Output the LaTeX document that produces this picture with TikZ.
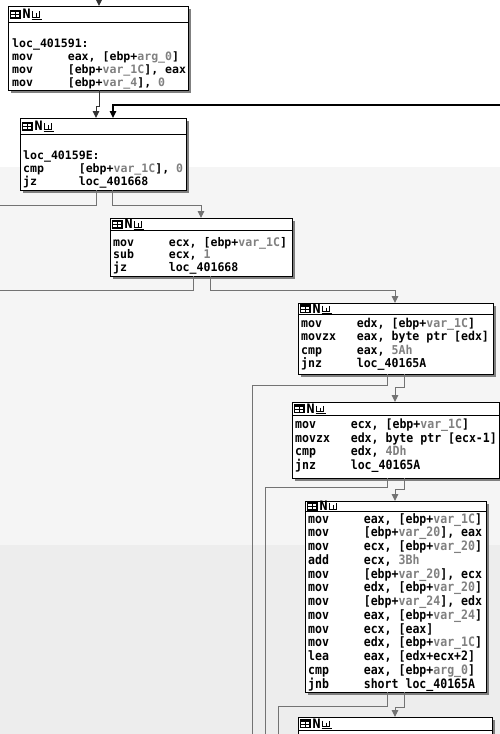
\documentclass[tikz,border=0pt]{standalone}
\usepackage{fontspec}
\usetikzlibrary{arrows.meta,shadows,calc}
\newfontfamily\asmfont{DejaVu Sans Mono}
\newfontfamily\hdrfont{DejaVu Sans}
\newcommand\asmf{\asmfont\bfseries\fontsize{11.55pt}{13pt}\selectfont}
\newcommand\gv[1]{\textcolor{black!50}{#1}}
\newcommand\vs{1}
\newcommand\asmln[5]{\node[asmtext] (#1) at (#2,#3) {\scalebox{1}[\vs]{\makebox[8\fontcharwd\font`0][l]{#4}#5}};}
\newcommand\lblln[4]{\node[asmtext] (#1) at (#2,#3) {\scalebox{1}[\vs]{#4}};}
\newcommand\hdr[2]{%
  \draw[line width=.8pt] ([yshift=-#2pt]#1.north west) -- ([yshift=-#2pt]#1.north east);
  \begin{scope}[shift={(#1.north west)}]
    \pgfmathsetmacro\yc{#2/2}
    \fill[black] (1.5,\yc-4.5) rectangle (12.5,\yc+4.5);
    \fill[white] (3,\yc-2) rectangle (6.5,\yc+0.3);
    \fill[white] (7.8,\yc-2) rectangle (11.2,\yc+0.3);
    \fill[white] (3,\yc+1.3) rectangle (6.5,\yc+3.2);
    \fill[white] (7.8,\yc+1.3) rectangle (11.2,\yc+3.2);
    \node[inner sep=0, font=\hdrfont\bfseries\fontsize{13}{13}\selectfont] (#1-n) at (18.5,\yc+0.2) {\scalebox{0.78}[1]{N}};
    \draw[line width=.9pt] (24.5,\yc-3) -- (24.5,\yc+3) -- (31.5,\yc+3) -- (31.5,\yc-3)
      (28,\yc-1) -- (28,\yc+3);
    \draw[line width=.9pt] (23.5,\yc+5) -- (33.5,\yc+5);
  \end{scope}}
\tikzset{
  box/.style={draw=black, line width=.9pt, fill=white, inner sep=0, outer sep=0, anchor=north west,
    drop shadow={shadow xshift=3pt, shadow yshift=-3pt, fill=black!55, opacity=.9}},
  asmtext/.style={anchor=base west, inner sep=0, font=\asmf},
  edge/.style={draw=black!55, line width=1pt},
  edgedark/.style={draw=black!80, line width=1pt},
  edgeback/.style={draw=black, line width=1.4pt},
  tip/.style={-{Triangle[length=7pt,width=6.5pt]}}
}
\begin{document}
\begin{tikzpicture}[x=1pt,y=-1pt]
\useasboundingbox (0,0) rectangle (500,734);
\fill[white] (0,0) rectangle (500,167);
\fill[black!4] (0,167) rectangle (500,545);
\fill[black!7] (0,545) rectangle (500,734);

% boxes
\node[box, minimum width=180pt, minimum height=84pt] (b1) at (8,6) {};
\node[box, minimum width=166pt, minimum height=72pt] (b2) at (20,118) {};
\node[box, minimum width=182pt, minimum height=58pt] (b3) at (110,218) {};
\node[box, minimum width=195pt, minimum height=71pt] (b4) at (298,303) {};
\node[box, minimum width=207pt, minimum height=76pt] (b5) at (292,402) {};
\node[box, minimum width=181pt, minimum height=191pt] (b6) at (305,501) {};
\node[box, minimum width=194pt, minimum height=40pt] (b7) at (298,717) {};

\hdr{b1}{16}
\hdr{b2}{16}
\hdr{b3}{12}
\hdr{b4}{11}
\hdr{b5}{13}
\hdr{b6}{10}
\hdr{b7}{13}

% text
\lblln{t11}{12}{47}{loc\_401591:}
\asmln{t12}{12}{60}{mov}{eax, [ebp+\gv{arg\_0}]}
\asmln{t13}{12}{73}{mov}{[ebp+\gv{var\_1C}], eax}
\asmln{t14}{12}{86}{mov}{[ebp+\gv{var\_4}], \gv{0}}

\lblln{t21}{23}{159}{loc\_40159E:}
\asmln{t22}{23}{172}{cmp}{[ebp+\gv{var\_1C}], \gv{0}}
\asmln{t23}{23}{185}{jz}{loc\_401668}

\renewcommand\vs{1.03}
\asmln{t31}{113}{246}{mov}{ecx, [ebp+\gv{var\_1C}]}
\asmln{t32}{113}{258.5}{sub}{ecx, \gv{1}}
\asmln{t33}{113}{271}{jz}{loc\_401668}

\renewcommand\vs{1.06}
\asmln{t41}{301}{327}{mov}{edx, [ebp+\gv{var\_1C}]}
\asmln{t42}{301}{340.5}{movzx}{eax, byte ptr [edx]}
\asmln{t43}{301}{354}{cmp}{eax, \gv{5Ah}}
\asmln{t44}{301}{367.5}{jnz}{loc\_40165A}

\renewcommand\vs{1.1}
\asmln{t51}{295}{428.5}{mov}{ecx, [ebp+\gv{var\_1C}]}
\asmln{t52}{295}{442}{movzx}{edx, byte ptr [ecx-1]}
\asmln{t53}{295}{455.5}{cmp}{edx, \gv{4Dh}}
\asmln{t54}{295}{469}{jnz}{loc\_40165A}

\renewcommand\vs{1.12}
\asmln{t601}{308}{523}{mov}{eax, [ebp+\gv{var\_1C}]}
\asmln{t602}{308}{536.75}{mov}{[ebp+\gv{var\_20}], eax}
\asmln{t603}{308}{550.5}{mov}{ecx, [ebp+\gv{var\_20}]}
\asmln{t604}{308}{564.25}{add}{ecx, \gv{3Bh}}
\asmln{t605}{308}{578}{mov}{[ebp+\gv{var\_20}], ecx}
\asmln{t606}{308}{591.75}{mov}{edx, [ebp+\gv{var\_20}]}
\asmln{t607}{308}{605.5}{mov}{[ebp+\gv{var\_24}], edx}
\asmln{t608}{308}{619.25}{mov}{eax, [ebp+\gv{var\_24}]}
\asmln{t609}{308}{633}{mov}{ecx, [eax]}
\asmln{t610}{308}{646.75}{mov}{edx, [ebp+\gv{var\_1C}]}
\asmln{t611}{308}{660.5}{lea}{eax, [edx+ecx+2]}
\asmln{t612}{308}{674.25}{cmp}{eax, [ebp+\gv{arg\_0}]}
\asmln{t613}{308}{688}{jnb}{short loc\_40165A}

% free ends
\coordinate (in0) at (99,0);
\coordinate (backR) at (500,105);
\coordinate (outL1) at (0,205);
\coordinate (outL2) at (0,290);
\coordinate (down1) at (252,734);
\coordinate (down2) at (265,734);
\coordinate (down3) at (278,734);

% connectors
\draw[edgedark, tip] (in0) -- (b1.north -| in0);
\draw[edgedark, tip] ([xshift=91pt]b1.south west) -- ++(0,16) -| ([xshift=76pt]b2.north west);
\draw[edgeback, tip] (backR) -| ([xshift=93pt]b2.north west);
\draw[edge] ([xshift=76pt]b2.south west) |- (outL1);
\draw[edge, tip] ([xshift=92pt]b2.south west) -- ++(0,15) -| ([xshift=91pt]b3.north west);
\draw[edge] ([xshift=83pt]b3.south west) |- (outL2);
\draw[edge, tip] ([xshift=100pt]b3.south west) -- ++(0,14) -| ([xshift=97pt]b4.north west);
\draw[edge] ([xshift=89pt]b4.south west) -- ++(0,11) -| (down1);
\draw[edge, tip] ([xshift=106pt]b4.south west) -- ++(0,13) -| ([xshift=103pt]b5.north west);
\draw[edge] ([xshift=95pt]b5.south west) -- ++(0,9) -| (down2);
\draw[edge, tip] ([xshift=112pt]b5.south west) -- ++(0,11) -| ([xshift=90pt]b6.north west);
\draw[edge] ([xshift=82pt]b6.south west) -- ++(0,14) -| (down3);
\draw[edge, tip] ([xshift=99pt]b6.south west) -- ++(0,15) -| ([xshift=97pt]b7.north west);
\end{tikzpicture}
\end{document}
